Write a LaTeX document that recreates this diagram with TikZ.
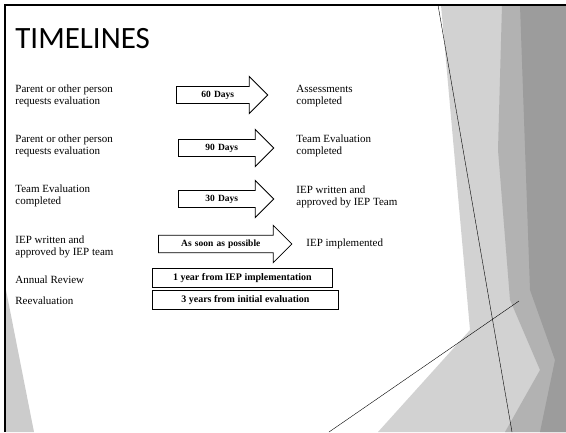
\documentclass[tikz,border=0pt]{standalone}
\usepackage{fontspec}
\setmainfont{Liberation Serif}
\newfontfamily\titlefont{Carlito}
\usetikzlibrary{shapes.arrows,positioning}

\begin{document}
\begin{tikzpicture}[
    x=1pt, y=-1pt,
    thick,
    step_text/.style={anchor=west, align=left, inner sep=0pt, font=\fontsize{11}{12.5}\selectfont},
    day_arrow/.style={single arrow, draw, fill=white, anchor=tail, single arrow head extend=10pt,
        inner xsep=3pt, inner ysep=4pt, align=center, font=\bfseries\fontsize{9.5}{10}\selectfont},
    period_box/.style={draw, fill=white, anchor=west, inner ysep=5pt, align=center, font=\bfseries\fontsize{10}{11}\selectfont},
    deco_line/.style={thin, black}
]
\useasboundingbox (0,0) rectangle (566,432);

% --- BACKGROUND DECORATION ---
\fill[gray!35] (441,5) -- (566,5) -- (566,432) -- (378,432) -- (470,330) -- cycle;
\fill[gray!60] (502,5) -- (566,5) -- (566,432) -- (505,432) -- (540,370) -- (510,300) -- (498,150) -- cycle;
\fill[gray!78] (520,5) -- (566,5) -- (566,432) -- (540,432) -- (555,360) -- (530,290) -- cycle;
\fill[gray!40] (6,290) -- (6,432) -- (34,432) -- cycle;

\coordinate (lineA_top) at (438,5);
\coordinate (lineA_bot) at (512,432);
\coordinate (lineB_bot) at (329,432);
\coordinate (lineB_top) at (519,301);
\draw[deco_line] (lineA_top) -- (lineA_bot);
\draw[deco_line] (lineB_bot) -- (lineB_top);

% frame
\draw[line width=1.6pt] (5,432) -- (5,5) -- (566,5);

% --- TITLE ---
\node[anchor=west, inner sep=0pt, font=\titlefont\fontsize{31}{31}\selectfont] (title) at (15,39) {TIMELINES};

% --- ROW 1 ---
\node[step_text] (from1) at (15,96) {Parent or other person\\requests evaluation};
\node[day_arrow, text width=76pt] (arrow1) at (176,95) {60 Days};
\node[step_text] (to1) at (296,96) {Assessments\\completed};

% --- ROW 2 ---
\node[step_text] (from2) at (15,146) {Parent or other person\\requests evaluation};
\node[day_arrow, text width=80pt] (arrow2) at (178,148) {90 Days};
\node[step_text] (to2) at (296,146) {Team Evaluation\\completed};

% --- ROW 3 ---
\node[step_text] (from3) at (15,196) {Team Evaluation\\completed};
\node[day_arrow, text width=80pt] (arrow3) at (178,199) {30 Days};
\node[step_text] (to3) at (296,197) {IEP written and\\approved by IEP Team};

% --- ROW 4 ---
\node[step_text] (from4) at (15,247) {IEP written and\\approved by IEP team};
\node[day_arrow, text width=118pt] (arrow4) at (158,244) {As soon as possible};
\node[step_text] (to4) at (306,244) {IEP implemented};

% --- REVIEWS ---
\node[step_text] (annual) at (15,280) {Annual Review};
\node[period_box, minimum width=180pt] (year1) at (152,278) {1 year from IEP implementation};
\node[step_text] (reeval) at (15,301) {Reevaluation};
\node[period_box, minimum width=186pt] (year3) at (152,300) {3 years from initial evaluation};

\end{tikzpicture}
\end{document}
